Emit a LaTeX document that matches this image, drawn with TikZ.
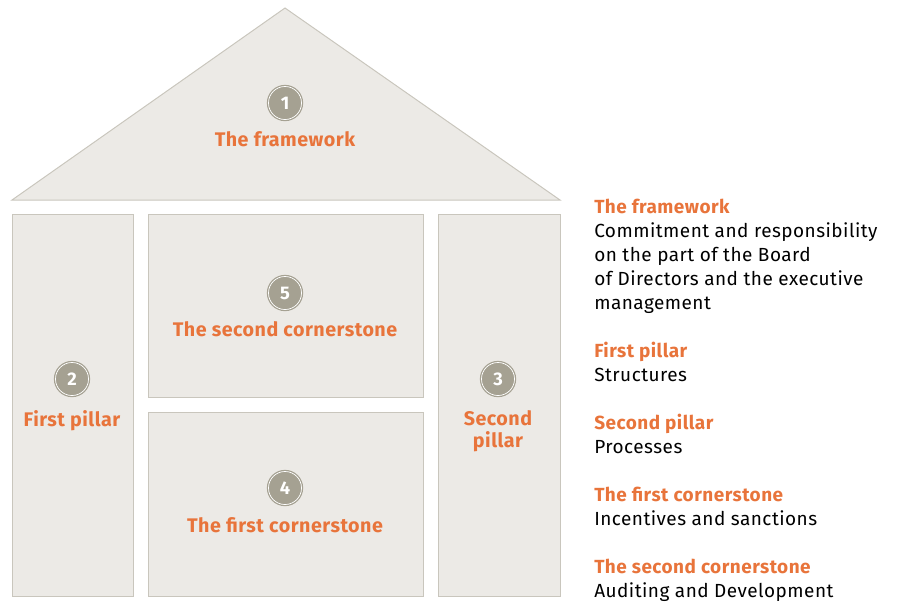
\documentclass[tikz,border=0pt]{standalone}
\usepackage{fontspec}
\setmainfont{Fira Sans}[LetterSpace=2.5]
\usepackage{xcolor}
\usetikzlibrary{positioning}

\definecolor{housefill}{HTML}{ECEAE6}
\definecolor{houseline}{HTML}{C9C6BD}
\definecolor{titleorange}{HTML}{E8743B}
\definecolor{numgray}{HTML}{A5A192}

\tikzset{
  part/.style={fill=housefill, draw=houseline, line width=0.7pt},
  num/.style={circle, fill=numgray, draw=numgray, double=white, double distance=0.5pt,
    line width=0.9pt, minimum size=23.5pt, inner sep=0pt, text=white, font=\bfseries\fontsize{13}{13}\selectfont},
  title/.style={text=titleorange, font=\bfseries\fontsize{14}{15}\selectfont, align=center},
  entry/.style={anchor=base west, align=left, inner sep=0pt, font=\fontsize{13.5}{17}\selectfont}
}

\begin{document}
\begin{tikzpicture}[x=0.025cm, y=-0.025cm]
    \useasboundingbox (0,0) rectangle (898,607);

    % roof
    \draw [part] (12,200) -- (285,8) -- (560,200) -- cycle;
    % pillars and cornerstones
    \draw [part] (12,214) rectangle (133,596);
    \draw [part] (148,214) rectangle (423,397);
    \draw [part] (148,412) rectangle (423,596);
    \draw [part] (438,214) rectangle (560,596);

    \node [num] (n1) at (285,103) {1};
    \node [title, below=4.5pt of n1] (framework) {The framework};
    \node [num] (n2) at (72,379) {2};
    \node [title, below=6.5pt of n2] (pillar1) {First pillar};
    \node [num] (n3) at (498,379) {3};
    \node [title, below=7pt of n3] (pillar2) {Second\\pillar};
    \node [num] (n4) at (285,488) {4};
    \node [title, below=5.5pt of n4] (stone1) {The first cornerstone};
    \node [num] (n5) at (285,293) {5};
    \node [title, below=4.5pt of n5] (stone2) {The second cornerstone};

    % legend (base = last line)
    \node [entry] (e1) at (594,309) {\textcolor{titleorange}{\textbf{The framework}}\\
      Commitment and responsibility\\on the part of the Board\\of Directors and the executive\\management};
    \node [entry] (e2) at (594,381) {\textcolor{titleorange}{\textbf{First pillar}}\\Structures};
    \node [entry] (e3) at (594,453) {\textcolor{titleorange}{\textbf{Second pillar}}\\Processes};
    \node [entry] (e4) at (594,525) {\textcolor{titleorange}{\textbf{The first cornerstone}}\\Incentives and sanctions};
    \node [entry] (e5) at (594,597) {\textcolor{titleorange}{\textbf{The second cornerstone}}\\Auditing and Development};

\end{tikzpicture}
\end{document}
